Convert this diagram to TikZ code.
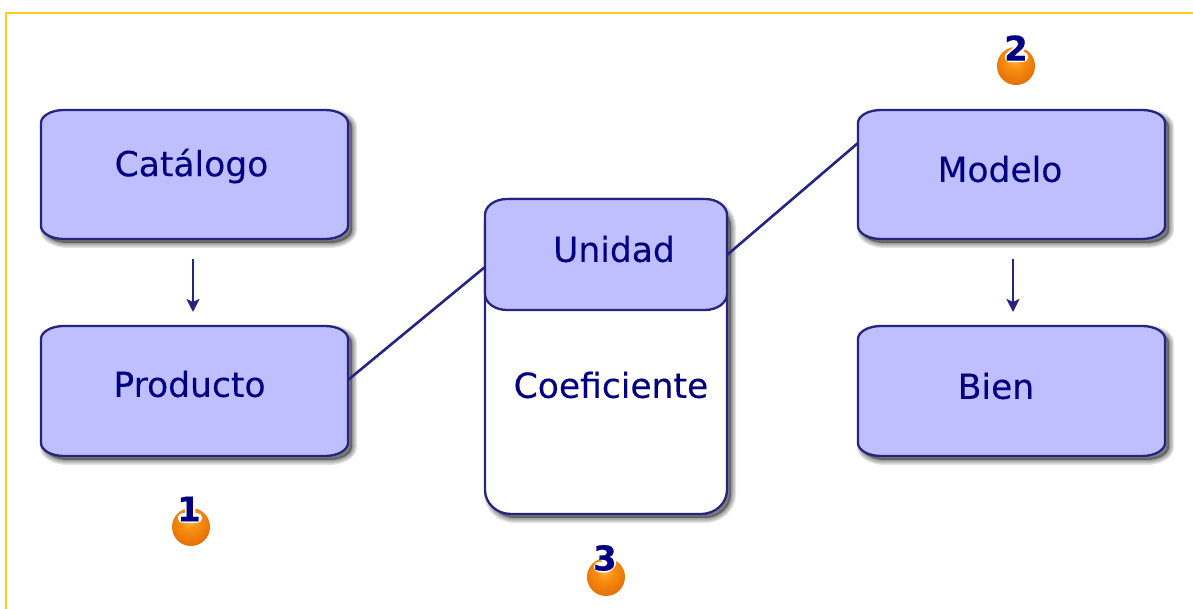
\documentclass[tikz,border=0pt]{standalone}
\usepackage{fontspec}
\setmainfont{DejaVu Sans}[FakeBold=0.25]
\newfontfamily\digitfont{DejaVu Sans Bold}[FakeBold=0.6]
\usetikzlibrary{arrows.meta}
\definecolor{framegold}{HTML}{FFCC22}
\definecolor{boxfill}{HTML}{BFBFFF}
\definecolor{boxline}{HTML}{25257F}
\definecolor{txt}{HTML}{000080}
\pgfdeclareradialshading{orb}{\pgfpoint{-2bp}{10bp}}{%
  rgb(0bp)=(1,.74,.28);
  rgb(12bp)=(.98,.56,.06);
  rgb(32bp)=(.88,.42,.02);
  rgb(46bp)=(.64,.31,.04);
  rgb(54bp)=(.48,.34,.22);
  rgb(62bp)=(.6,.55,.5)}
\tikzset{
  x=1pt,y=1pt,
  anchorbox/.style={rectangle,inner sep=0pt,outer sep=0pt,minimum width=#1},
  outline/.style={draw=boxline,line width=2.3pt,line join=round},
  link/.style={draw=boxline,line width=2.6pt},
  arrowlink/.style={draw=boxline,line width=2.2pt,-{Stealth[length=13pt,width=13pt,inset=3pt]}},
  label text/.style={text=txt,font=\fontsize{34.5}{38}\selectfont,inner sep=0pt},
  orbstyle/.style={circle,inner sep=0pt,minimum size=38pt,shading=orb},
  digit/.style={text=txt,inner sep=0pt,font=\fontsize{34}{36}\digitfont},
  halo/.style={draw=white,line width=10.5pt,line cap=round,line join=round},
}
\newcommand{\cornerpath}[3]{%
  ([xshift=#2]#1.north west) -- ([xshift=-#2]#1.north east)
  arc[start angle=90,end angle=0,x radius=#2,y radius=#3]
  -- ([yshift=#3]#1.south east)
  arc[start angle=0,end angle=-90,x radius=#2,y radius=#3]
  -- ([xshift=#2]#1.south west)
  arc[start angle=-90,end angle=-180,x radius=#2,y radius=#3]
  -- ([yshift=-#3]#1.north west)
  arc[start angle=180,end angle=90,x radius=#2,y radius=#3] -- cycle}
\newcommand{\softshadow}[3]{%
  \foreach \wd in {10,7.5,5,2.5}{%
    \path[transform canvas={shift={(4pt,-4pt)}},draw=black,fill=black,
      draw opacity=.11,fill opacity=.11,line width=\wd pt,line join=round] \cornerpath{#1}{#2}{#3};}}
\newcommand{\panel}[4]{%
  \softshadow{#1}{#2}{#3}
  \path[outline,fill=#4] \cornerpath{#1}{#2}{#3};}
\begin{document}
\begin{tikzpicture}
\useasboundingbox (0,0) rectangle (1193,609);
\fill[white] (0,0) rectangle (1193,609);
\coordinate (frameBL) at (6,0);
\coordinate (frameTL) at (6,596);
\coordinate (frameTR) at (1193,596);
\draw[framegold,line width=2.6pt] (frameBL) -- (frameTL) -- (frameTR);

\node[anchorbox=307pt,minimum height=129pt] (cat) at (194.5,434.5) {};
\node[anchorbox=307pt,minimum height=130pt] (prod) at (194.5,218) {};
\node[anchorbox=307pt,minimum height=129pt] (mod) at (1011.5,434.5) {};
\node[anchorbox=307pt,minimum height=130pt] (bien) at (1011.5,218) {};
\node[anchorbox=242pt,minimum height=315pt] (coef) at (606,252.5) {};
\node[anchorbox=242pt,minimum height=111pt] (uni) at (606,354.5) {};

\panel{cat}{23pt}{13pt}{boxfill}
\panel{prod}{23pt}{13pt}{boxfill}
\panel{mod}{23pt}{13pt}{boxfill}
\panel{bien}{23pt}{13pt}{boxfill}
\panel{coef}{26pt}{24pt}{white}
\path[outline,fill=boxfill] \cornerpath{uni}{22pt}{16pt};

\node[label text] at (191.5,443) {Catálogo};
\node[label text] at (189.5,225) {Producto};
\node[label text] at (1000,440) {Modelo};
\node[label text] at (996,223) {Bien};
\node[label text] at (614,360) {Unidad};
\node[label text] at (611,224) {Coeficiente};

\draw[arrowlink] ([xshift=-1.5pt,yshift=-20pt]cat.south) -- ([xshift=-1.5pt,yshift=14pt]prod.north);
\draw[arrowlink] ([xshift=1.5pt,yshift=-20pt]mod.south) -- ([xshift=1.5pt,yshift=14pt]bien.north);
\draw[link] ([yshift=11pt]prod.east) -- ([yshift=-68pt]uni.north west);
\draw[link] ([yshift=-56pt]uni.north east) -- ([yshift=-33pt]mod.north west);

\node[orbstyle] (o1) at (191,82) {};
\node[orbstyle] (o2) at (1016,543) {};
\node[orbstyle] (o3) at (606,32) {};

\begin{scope}[shift={(189,100)}]
  \draw[halo] (-6,7) -- (1,9) -- (1,-9);
  \draw[halo] (-6,-9) -- (8,-9);
\end{scope}
\begin{scope}[shift={(1016,561)}]
  \draw[halo] plot[smooth] coordinates {(-6,8) (1,9) (6,5) (2,-2) (-6,-9)} -- (7,-9);
\end{scope}
\begin{scope}[shift={(605,51)}]
  \draw[halo] plot[smooth] coordinates {(-5,9) (3,9) (5,4) (0,1) (6,-4) (2,-9) (-6,-9)};
\end{scope}
\node[digit] at (189,100) {1};
\node[digit] at (1016,561) {2};
\node[digit] at (605,51) {3};
\end{tikzpicture}
\end{document}
